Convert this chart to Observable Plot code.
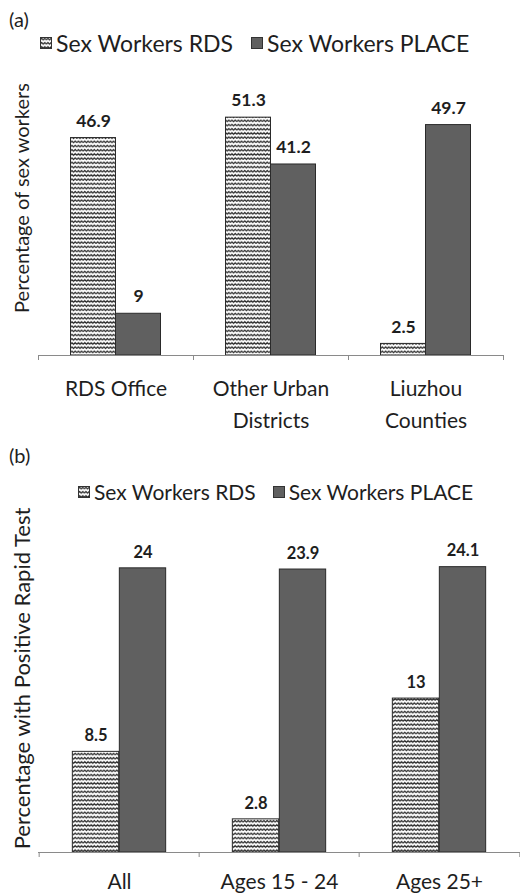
<!DOCTYPE html>
<html><head><meta charset="utf-8">
<script src="https://cdn.jsdelivr.net/npm/d3@7"></script>
<script src="https://cdn.jsdelivr.net/npm/@observablehq/plot@0.6"></script>
<style>
body{margin:0;overflow:hidden;background:#fff;font-family:Lato,sans-serif;color:#1e1e1e;}
#root{position:relative;width:520px;height:894px;overflow:hidden;}
.abs{position:absolute;white-space:nowrap;}
.leg{display:flex;align-items:center;}
.leg svg{margin-right:4px;}
</style></head><body>
<svg width="0" height="0" style="position:absolute">
 <defs>
  <pattern id="zig" width="6.4" height="4.2" patternUnits="userSpaceOnUse">
   <rect width="6.4" height="4.2" fill="#fff"/>
   <path d="M0,2.9 L1.6,1.2 L3.2,2.9 L4.8,1.2 L6.4,2.9" stroke="#222" stroke-width="1.1" fill="none"/>
  </pattern>
 </defs>
</svg>
<div id="root">
 <div class="abs" style="left:9px;top:7px;font-size:20px;line-height:24px">(a)</div>
 <div class="abs leg" id="legA" style="left:40px;top:30px;font-size:23px;line-height:26px"></div>
 <div class="abs" id="chartA" style="left:0;top:60px"></div>
 <div class="abs" style="left:9px;top:443px;font-size:20px;line-height:24px">(b)</div>
 <div class="abs leg" id="legB" style="left:78px;top:480px;font-size:21px;line-height:24px"></div>
 <div class="abs" id="chartB" style="left:0;top:500px"></div>
</div>
<script>
const series = ["Sex Workers RDS", "Sex Workers PLACE"];
const catsA = ["RDS Office", "Other Urban\nDistricts", "Liuzhou\nCounties"];
const rdsA = [46.9, 51.3, 2.5];
const placeA = [9, 41.2, 49.7];
const yLabelA = "Percentage of sex workers";
const catsB = ["All", "Ages 15 - 24", "Ages 25+"];
const rdsB = [8.5, 2.8, 13];
const placeB = [24, 23.9, 24.1];
const yLabelB = "Percentage with Positive Rapid Test";

const fills = ["url(#zig)", "#606060"];

function legend(el, gap) {
  series.forEach((s, i) => {
    const item = document.createElement("div");
    item.className = "leg";
    item.style.marginRight = gap + "px";
    item.innerHTML = `<svg width="12" height="12"><rect x="0.5" y="0.5" width="11" height="11" fill="${fills[i]}" stroke="#333"/></svg><span>${s}</span>`;
    el.appendChild(item);
  });
}
legend(document.getElementById("legA"), 18);
legend(document.getElementById("legB"), 17);

function panel(o) {
  const band = (o.width - o.ml - o.mr) / o.cats.length;
  const inner = band / 2 - o.barW;
  const rows0 = o.cats.map((c, i) => ({cat: c, value: o.rds[i]}));
  const rows1 = o.cats.map((c, i) => ({cat: c, value: o.place[i]}));
  const axisStroke = "#8a8a8a";
  return Plot.plot({
    width: o.width, height: o.height,
    marginTop: o.mt, marginBottom: o.mb, marginLeft: o.ml, marginRight: o.mr,
    style: {fontFamily: "Lato, sans-serif", background: "transparent", overflow: "visible", color: "#1e1e1e"},
    x: {domain: o.cats, padding: 0, label: null},
    y: {domain: [0, o.ymax], axis: null},
    marks: [
      Plot.barY(rows0, {x: "cat", y: "value", fill: fills[0], stroke: "#2a2a2a", strokeWidth: 1, insetLeft: inner, insetRight: band / 2}),
      Plot.barY(rows1, {x: "cat", y: "value", fill: fills[1], stroke: "#2a2a2a", strokeWidth: 1, insetLeft: band / 2, insetRight: inner}),
      Plot.ruleY([0], {stroke: axisStroke, strokeWidth: 1.2}),
      Plot.axisX({tickSize: 5, tickFormat: () => "", dx: -band / 2, stroke: axisStroke, label: null}),
      Plot.axisX({ticks: [o.cats[o.cats.length - 1]], tickSize: 5, tickFormat: () => "", dx: band / 2, stroke: axisStroke, label: null}),
      Plot.text(o.cats, {x: d => d, frameAnchor: "bottom", dy: o.catDy, lineAnchor: "top", lineHeight: o.lineHeight, fontSize: o.catFont, fill: "#1e1e1e"}),
      Plot.text(rows0, {x: "cat", y: "value", text: d => String(d.value), dx: -o.barW / 2, dy: o.valDy, fontSize: o.valFont, fontWeight: "bold", fill: "#1e1e1e"}),
      Plot.text(rows1, {x: "cat", y: "value", text: d => String(d.value), dx: o.barW / 2, dy: o.valDy, fontSize: o.valFont, fontWeight: "bold", fill: "#1e1e1e"}),
      Plot.text([o.ylabel], {text: d => d, frameAnchor: "left", textAnchor: "middle", rotate: -90, dx: -16, dy: o.ylabDy, fontSize: o.ylabFont, fill: "#1e1e1e"})
    ]
  });
}

document.getElementById("chartA").appendChild(panel({
  cats: catsA, rds: rdsA, place: placeA, ylabel: yLabelA,
  width: 520, height: 390, mt: 40, mb: 95, ml: 38, mr: 17, ymax: 55,
  barW: 45, catDy: 17, lineHeight: 1.55, catFont: 21, valFont: 17.5, valDy: -17, ylabFont: 20, ylabDy: -30
}));
document.getElementById("chartB").appendChild(panel({
  cats: catsB, rds: rdsB, place: placeB, ylabel: yLabelB,
  width: 520, height: 394, mt: 56, mb: 42, ml: 38, mr: 0, ymax: 25,
  barW: 47, catDy: 13, lineHeight: 1.55, catFont: 21, valFont: 16.5, valDy: -16, ylabFont: 22, ylabDy: -26
}));
</script>
</body></html>
